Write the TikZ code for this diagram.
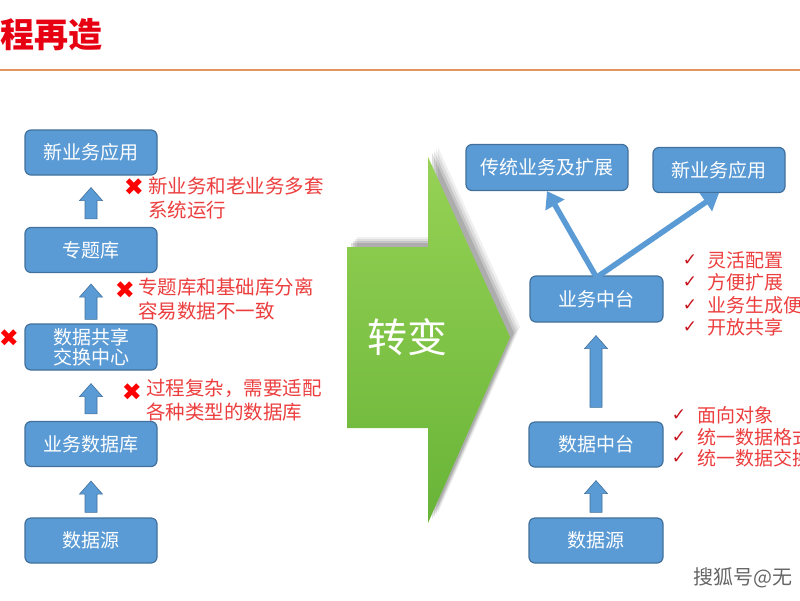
\documentclass[tikz,border=0pt]{standalone}
\usepackage{fontspec}
\setmainfont{Noto Sans CJK SC}
\newfontfamily\symfont{DejaVu Sans}
\usetikzlibrary{arrows.meta,calc}
\definecolor{boxblue}{RGB}{91,155,213}
\definecolor{boxedge}{RGB}{65,113,156}
\definecolor{txtred}{RGB}{236,62,62}
\definecolor{chkred}{RGB}{200,20,30}
\definecolor{greenlt}{RGB}{150,210,85}
\definecolor{greendk}{RGB}{104,180,56}
\definecolor{linorange}{RGB}{226,150,95}
\definecolor{titlered}{RGB}{230,0,18}
\tikzset{
  box/.style={draw=boxedge, line width=1.2pt, fill=boxblue, rounded corners=6pt,
    text=white, font=\fontsize{19}{21}\selectfont, align=center, inner sep=0pt},
  note/.style={anchor=west, align=left, inner sep=0pt, text=txtred,
    font=\fontsize{19.5}{24}\selectfont},
  chknote/.style={anchor=west, inner sep=0pt, text=txtred,
    font=\fontsize{19}{22}\selectfont},
  xmark/.style={inner sep=0pt, text=red, font=\symfont\fontsize{24}{24}\selectfont},
  chkmark/.style={inner sep=0pt, text=chkred, font=\symfont\fontsize{17}{18}\selectfont},
  blk/.style={fill=boxblue, draw=boxedge, line width=0.6pt},
  thinarr/.style={draw=boxblue, line width=5.5pt, -{Triangle[width=21pt,length=16pt]}}
}
% block up-arrow between a lower node (#1) and an upper node (#2)
\newcommand\blkup[4]{%
  \path[blk] let \p1=(#1.north), \p2=(#2.south) in
   (\x1-6pt,\y1+#3) -- (\x1-6pt,\y2-#4-13pt) -- (\x1-11.5pt,\y2-#4-13pt)
   -- (\x1,\y2-#4) -- (\x1+11.5pt,\y2-#4-13pt) -- (\x1+6pt,\y2-#4-13pt)
   -- (\x1+6pt,\y1+#3) -- cycle;}
\begin{document}
\begin{tikzpicture}[x=1pt,y=-1pt]
\useasboundingbox (0,0) rectangle (800,600);
\clip (0,0) rectangle (800,600);
\fill[white] (0,0) rectangle (800,600);

% title and rule
\node[anchor=west, inner sep=0pt, text=titlered, font=\bfseries\fontsize{34}{36}\selectfont] (title) at (0,35) {程再造};
\draw[linorange, line width=1.6pt] (0,70) -- (800,70);

% left column
\node[box, minimum width=132pt, minimum height=45pt] (lb1) at (91,152.5) {新业务应用};
\node[box, minimum width=132pt, minimum height=45pt] (lb2) at (91,250) {专题库};
\node[box, minimum width=132pt, minimum height=46pt, font=\fontsize{19}{20}\selectfont] (lb3) at (91,347) {数据共享\\交换中心};
\node[box, minimum width=132pt, minimum height=45pt] (lb4) at (91,444) {业务数据库};
\node[box, minimum width=132pt, minimum height=45pt] (lb5) at (91,540.5) {数据源};

\blkup{lb2}{lb1}{8pt}{12pt}
\blkup{lb3}{lb2}{4pt}{11pt}
\blkup{lb4}{lb3}{7pt}{13pt}
\blkup{lb5}{lb4}{5pt}{14pt}

\node[xmark] (x1) at (134,187) {✖};
\node[note] (n1) at (148,198.5) {新业务和老业务多套\\系统运行};
\node[xmark] (x2) at (125,290) {✖};
\node[note] (n2) at (138,299) {专题库和基础库分离\\容易数据不一致};
\node[xmark] (x3) at (9,338) {✖};
\node[xmark] (x4) at (132,392) {✖};
\node[note] (n4) at (146,400) {过程复杂，需要适配\\各种类型的数据库};

% green transformation arrow
\foreach \d/\o in {10/0.06,8/0.08,6/0.1,4/0.12}{
  \fill[black, opacity=\o, shift={(\d pt,\d pt)}]
    (347,247) -- (428,247) -- (428,157) -- (510,337) -- (428,523) -- (428,428) -- (347,428) -- cycle;
}
\shade[top color=greenlt, bottom color=greendk]
  (347,247) -- (428,247) -- (428,157) -- (510,337) -- (428,523) -- (428,428) -- (347,428) -- cycle;
\node[text=white, inner sep=0pt, font=\fontsize{40}{42}\selectfont] (zb) at (407,337) {转变};

% right side
\node[box, minimum width=162pt, minimum height=46pt] (rt1) at (547,167.5) {传统业务及扩展};
\node[box, minimum width=132pt, minimum height=45pt] (rt2) at (719,170) {新业务应用};
\node[box, minimum width=133pt, minimum height=46pt] (rm1) at (596.5,299) {业务中台};
\node[box, minimum width=134pt, minimum height=45pt] (rm2) at (596,444.5) {数据中台};
\node[box, minimum width=134pt, minimum height=45pt] (rm3) at (596,540.5) {数据源};

\draw[thinarr] ([yshift=-2pt]rm1.north) -- (rt1.south);
\draw[thinarr] ([yshift=-2pt]rm1.north) -- (rt2.south);
\blkup{rm2}{rm1}{14pt}{13pt}
\blkup{rm3}{rm2}{5pt}{13pt}

\node[chkmark] (c1) at (690,260) {✓};
\node[chknote] (t1) at (707,260) {灵活配置};
\node[chkmark] (c2) at (690,282) {✓};
\node[chknote] (t2) at (707,282) {方便扩展};
\node[chkmark] (c3) at (690,305) {✓};
\node[chknote] (t3) at (707,305) {业务生成便};
\node[chkmark] (c4) at (690,327) {✓};
\node[chknote] (t4) at (707,327) {开放共享};

\node[chkmark] (c5) at (679,415) {✓};
\node[chknote] (t5) at (697,415) {面向对象};
\node[chkmark] (c6) at (679,437) {✓};
\node[chknote] (t6) at (697,437) {统一数据格式};
\node[chkmark] (c7) at (679,458) {✓};
\node[chknote] (t7) at (697,458) {统一数据交换};

% watermark
\node[anchor=west, inner sep=0pt, text=white, font=\fontsize{20}{22}\selectfont] (wm0) at (694,579) {搜狐号@无};
\node[anchor=west, inner sep=0pt, text=black!60, font=\fontsize{20}{22}\selectfont] (wm) at (693,578) {搜狐号@无};
\end{tikzpicture}
\end{document}
